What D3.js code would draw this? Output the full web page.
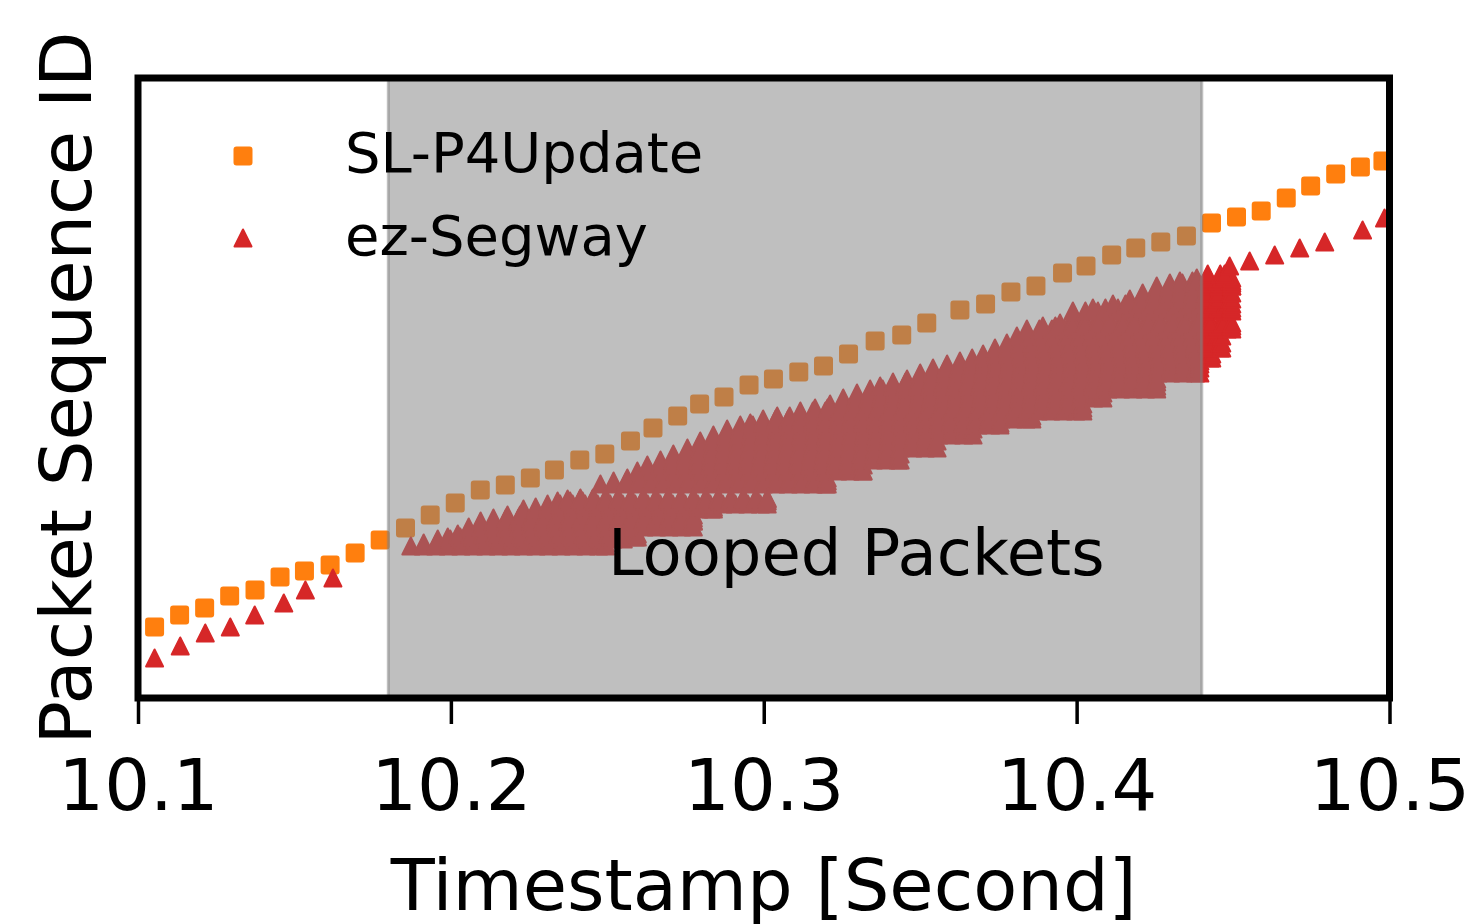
<!DOCTYPE html>
<html>
<head>
<meta charset="utf-8">
<script src="https://cdn.jsdelivr.net/npm/d3@7"></script>
<style>
  body { margin: 0; background: #fff; }
  text { font-family: "DejaVu Sans", sans-serif; fill: #000; }
</style>
</head>
<body>
<script>
// x axis
const xTicks = [10.1, 10.2, 10.3, 10.4, 10.5];
const xTickLabels = ["10.1", "10.2", "10.3", "10.4", "10.5"];

// SL-P4Update: timestamp / packet sequence id
const slTime = [10.1053, 10.1133, 10.1213, 10.1293, 10.1374, 10.1454, 10.1532, 10.1614, 10.1694, 10.1774,
  10.1855, 10.1934, 10.2014, 10.2094, 10.2174, 10.2254, 10.2331, 10.2412, 10.2492, 10.2574,
  10.2646, 10.2725, 10.2795, 10.2873, 10.2953, 10.3031, 10.3112, 10.3191, 10.3271, 10.3356,
  10.3441, 10.3521, 10.3627, 10.3709, 10.3790, 10.3870, 10.3955, 10.4030, 10.4112, 10.4189,
  10.4269, 10.4351, 10.4431, 10.4511, 10.4590, 10.4670, 10.4748, 10.4828, 10.4907, 10.4979];
const slSeq = [71, 83, 90, 102, 108, 121, 127, 133, 145, 158,
  170, 183, 195, 208, 213, 220, 228, 238, 244, 257,
  270, 282, 294, 301, 313, 319, 326, 332, 344, 357,
  363, 375, 388, 394, 406, 412, 425, 432, 443, 450,
  456, 462, 475, 481, 487, 500, 512, 524, 531, 537];

// ez-Segway, packets delivered normally
const ezTime = [10.1053, 10.1135, 10.1215, 10.1295, 10.1373, 10.1466, 10.1535, 10.1623,
  10.4489, 10.4553, 10.4633, 10.4713, 10.4793, 10.4914, 10.4984];
const ezSeq = [40, 52, 65, 71, 83, 95, 108, 120,
  432, 437, 443, 450, 456, 468, 480];

// ez-Segway, looped packets: first seen, sequence id, last seen
const loopFirst = [10.1872, 10.1913, 10.1958, 10.1990, 10.2022, 10.2057, 10.2095, 10.2136, 10.2181, 10.2232,
  10.2271, 10.2309, 10.2341, 10.2373, 10.2414, 10.2478, 10.2520, 10.2564, 10.2596, 10.2628,
  10.2670, 10.2711, 10.2756, 10.2797, 10.2839, 10.2883, 10.2925, 10.2957, 10.2998, 10.3043,
  10.3117, 10.3164, 10.3212, 10.3254, 10.3298, 10.3340, 10.3372, 10.3413, 10.3458, 10.3500,
  10.3541, 10.3586, 10.3627, 10.3666, 10.3701, 10.3739, 10.3777, 10.3809, 10.3841, 10.3892,
  10.3947, 10.3988, 10.4052, 10.4116, 10.4170, 10.4211, 10.4256, 10.4298, 10.4330, 10.4384, 10.4419];
const loopSeq = [152, 155, 159, 161, 164, 171, 177, 180, 183, 189,
  191, 194, 197, 199, 200, 214, 217, 220, 227, 233,
  238, 244, 250, 257, 263, 269, 273, 275, 279, 282,
  287, 290, 294, 300, 305, 309, 312, 316, 319, 325,
  330, 334, 337, 340, 344, 350, 355, 362, 369, 372,
  375, 387, 390, 394, 399, 405, 412, 415, 417, 420, 424];
const loopLast = [10.2494, 10.2494, 10.2551, 10.2596, 10.2596, 10.2775, 10.2775, 10.2775, 10.2775, 10.2839,
  10.2839, 10.3011, 10.3011, 10.3011, 10.3011, 10.3203, 10.3203, 10.3203, 10.3318, 10.3318,
  10.3436, 10.3436, 10.3554, 10.3554, 10.3669, 10.3669, 10.3755, 10.3755, 10.3857, 10.3857,
  10.4020, 10.4020, 10.4020, 10.4084, 10.4084, 10.4256, 10.4256, 10.4256, 10.4256, 10.4394,
  10.4394, 10.4394, 10.4394, 10.4432, 10.4432, 10.4464, 10.4464, 10.4464, 10.4496, 10.4496,
  10.4496, 10.4496, 10.4496, 10.4496, 10.4496, 10.4496, 10.4496, 10.4496, 10.4496, 10.4496, 10.4473];
const loopInterval = 0.004; // one trip around the loop

// update window
const bandStart = 10.18, bandEnd = 10.44;

const width = 1464, height = 924;
const box = { left: 138, right: 1389.5, top: 78, bottom: 698 };

const x = d3.scaleLinear().domain([10.1, 10.5]).range([box.left, box.right]);
const y = d3.scaleLinear().domain([0, 620]).range([box.bottom, box.top]);

const svg = d3.select("body").append("svg")
  .attr("width", width)
  .attr("height", height);

svg.append("defs").append("clipPath").attr("id", "plot-clip")
  .append("rect")
  .attr("x", box.left).attr("y", box.top)
  .attr("width", box.right - box.left).attr("height", box.bottom - box.top);

const plot = svg.append("g").attr("clip-path", "url(#plot-clip)");

const orange = "#ff7f0e", red = "#d62728";
const tri = "M0,-8.5L8.5,8.5L-8.5,8.5Z";

// SL-P4Update squares
plot.append("g").selectAll("rect")
  .data(slTime.map((t, i) => ({ t: t, s: slSeq[i] })))
  .join("rect")
  .attr("x", (d) => x(d.t) - 8.5)
  .attr("y", (d) => y(d.s) - 8.5)
  .attr("width", 17).attr("height", 17).attr("rx", 2)
  .attr("fill", orange).attr("stroke", orange)
  .attr("stroke-width", 2).attr("stroke-linejoin", "round");

// looped packets: one triangle each time the packet comes round again
const looped = [];
loopFirst.forEach((t0, i) => {
  for (let t = t0; t < loopLast[i]; t += loopInterval) looped.push({ t: t, s: loopSeq[i] });
  looped.push({ t: loopLast[i], s: loopSeq[i] });
});

plot.append("g").selectAll("path")
  .data(looped.concat(ezTime.map((t, i) => ({ t: t, s: ezSeq[i] }))))
  .join("path")
  .attr("d", tri)
  .attr("transform", (d) => "translate(" + x(d.t) + "," + y(d.s) + ")")
  .attr("fill", red).attr("stroke", red)
  .attr("stroke-width", 2).attr("stroke-linejoin", "round");

// shaded update window
plot.append("rect")
  .attr("x", x(bandStart))
  .attr("y", box.top - 10)
  .attr("width", x(bandEnd) - x(bandStart))
  .attr("height", box.bottom - box.top + 20)
  .attr("fill", "grey").attr("fill-opacity", 0.5)
  .attr("stroke", "grey").attr("stroke-opacity", 0.5).attr("stroke-width", 3);

svg.append("text")
  .attr("x", 608).attr("y", 575)
  .style("font-size", "64px")
  .text("Looped Packets");

// legend
const legend = svg.append("g");
legend.append("rect")
  .attr("x", 243 - 8.5).attr("y", 156 - 8.5)
  .attr("width", 17).attr("height", 17).attr("rx", 2)
  .attr("fill", orange).attr("stroke", orange).attr("stroke-width", 2);
legend.append("path")
  .attr("d", tri).attr("transform", "translate(243,238)")
  .attr("fill", red).attr("stroke", red)
  .attr("stroke-width", 2).attr("stroke-linejoin", "round");
legend.append("text").attr("x", 345).attr("y", 172).style("font-size", "56px").text("SL-P4Update");
legend.append("text").attr("x", 345).attr("y", 255).style("font-size", "56px").text("ez-Segway");

// x axis
const xAxis = svg.append("g")
  .attr("transform", "translate(0," + box.bottom + ")")
  .call(d3.axisBottom(x).tickValues(xTicks).tickSize(26).tickPadding(12)
    .tickFormat((d, i) => xTickLabels[i]));
xAxis.select(".domain").remove();
xAxis.selectAll(".tick line").attr("stroke", "#000").attr("stroke-width", 3.5);
xAxis.selectAll(".tick text")
  .attr("font-family", "DejaVu Sans")
  .style("font-size", "72px")
  .attr("dy", null)
  .attr("y", 112);

// frame
svg.append("rect")
  .attr("x", box.left).attr("y", box.top)
  .attr("width", box.right - box.left).attr("height", box.bottom - box.top)
  .attr("fill", "none").attr("stroke", "#000").attr("stroke-width", 7);

svg.append("text")
  .attr("x", (box.left + box.right) / 2).attr("y", 910)
  .attr("text-anchor", "middle")
  .style("font-size", "72px")
  .text("Timestamp [Second]");

svg.append("text")
  .attr("transform", "translate(91," + (box.top + box.bottom) / 2 + ") rotate(-90)")
  .attr("text-anchor", "middle")
  .style("font-size", "72px")
  .text("Packet Sequence ID");
</script>
</body>
</html>
